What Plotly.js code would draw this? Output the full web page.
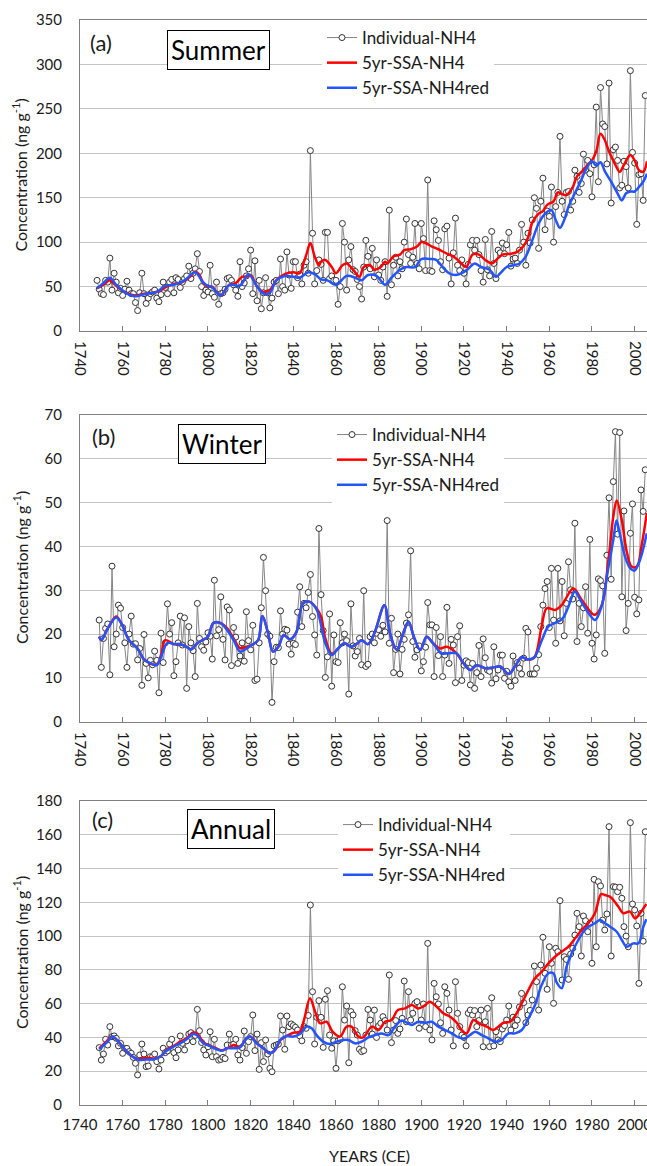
<!DOCTYPE html>
<html>
<head>
<meta charset="utf-8">
<script src="https://cdn.plot.ly/plotly-3.0.1.min.js"></script>
<style>
  html, body { margin: 0; padding: 0; background: #fff; }
  #chart { width: 647px; height: 1166px; }
</style>
</head>
<body>
<div id="chart"></div>
<script>
// ---------- Summer (a): individual yearly NH4, 1748-2005 ----------
const summerStart = 1748;
const summerIndividual = [
  57, 47, 42, 41, 57, 55, 82, 46, 65, 55,
  43, 48, 40, 47, 56, 46, 42, 42, 32, 23,
  43, 65, 42, 31, 37, 42, 44, 46, 37, 33,
  41, 55, 49, 42, 55, 58, 43, 60, 58, 49,
  55, 59, 62, 73, 59, 65, 70, 87, 67, 50,
  40, 46, 44, 74, 42, 38, 55, 30, 42, 43,
  47, 59, 60, 57, 52, 46, 39, 78, 50, 54,
  62, 70, 91, 42, 79, 34, 57, 25, 43, 60,
  43, 26, 37, 55, 57, 42, 81, 50, 46, 89,
  63, 48, 78, 78, 60, 64, 53, 74, 78, 65,
  203, 110, 53, 68, 80, 75, 57, 111, 111, 59,
  62, 57, 57, 30, 50, 121, 100, 46, 80, 95,
  69, 67, 58, 50, 36, 72, 102, 84, 70, 93,
  61, 80, 63, 57, 72, 78, 39, 136, 52, 74,
  83, 62, 78, 70, 100, 126, 86, 76, 83, 121,
  76, 70, 121, 104, 68, 170, 68, 67, 124, 114,
  102, 78, 69, 115, 118, 82, 53, 88, 127, 74,
  68, 80, 65, 53, 75, 97, 102, 91, 102, 86,
  68, 55, 103, 69, 62, 112, 76, 59, 91, 88,
  99, 87, 97, 111, 73, 81, 82, 76, 91, 120,
  100, 74, 110, 99, 125, 150, 138, 93, 146, 172,
  114, 135, 129, 162, 100, 140, 156, 219, 146, 131,
  156, 157, 136, 146, 181, 174, 156, 166, 199, 181,
  192, 177, 151, 187, 252, 168, 274, 233, 230, 188,
  279, 144, 204, 207, 192, 161, 164, 191, 185, 161,
  293, 201, 189, 120, 176, 177, 147, 265
];
const summerSsaYears = [
  1748, 1751, 1754, 1756, 1759, 1762, 1766, 1770, 1774, 1777, 1780, 1784, 1787, 1790, 1792,
  1794, 1796, 1798, 1800, 1802, 1804, 1806, 1808, 1810, 1813, 1816, 1818, 1820, 1823, 1826,
  1829, 1832, 1836, 1840, 1843, 1845, 1846, 1848, 1850, 1852, 1853, 1855, 1858, 1860, 1863,
  1865, 1868, 1871, 1873, 1876, 1878, 1881, 1883, 1884, 1887, 1890, 1892, 1895, 1898, 1900,
  1902, 1905, 1908, 1912, 1915, 1918, 1921, 1924, 1927, 1930, 1933, 1936, 1938, 1942, 1945,
  1948, 1950, 1952, 1955, 1957, 1959, 1962, 1964, 1966, 1968, 1971, 1973, 1976, 1978, 1980,
  1982, 1984, 1986, 1988, 1991, 1993, 1995, 1998, 2000, 2002, 2004, 2005.8
];
const summerSsa = [
  48, 52, 57, 53, 47, 43, 40, 42, 43, 45, 49, 53, 54, 58, 62,
  67, 63, 53, 50, 50, 44, 40, 46, 52, 54, 61, 61, 63, 50, 44,
  46, 57, 64, 66, 65, 78, 85, 99, 84, 74, 78, 80, 72, 65, 74,
  76, 69, 61, 72, 74, 69, 72, 78, 76, 84, 86, 91, 92, 95, 100,
  99, 95, 92, 87, 84, 78, 72, 86, 86, 80, 76, 82, 86, 87, 89,
  96, 105, 122, 132, 135, 142, 146, 156, 154, 153, 162, 174, 181, 187, 192,
  202, 222, 215, 202, 187, 179, 187, 198, 192, 181, 179, 191
];
const summerRedYears = [
  1748, 1751, 1754, 1757, 1762, 1766, 1771, 1776, 1780, 1784, 1789, 1794, 1797, 1799, 1802,
  1806, 1810, 1815, 1819, 1823, 1826, 1829, 1832, 1836, 1840, 1843, 1847, 1850, 1853, 1856,
  1860, 1865, 1869, 1872, 1875, 1879, 1883, 1886, 1890, 1893, 1897, 1900, 1904, 1907, 1910,
  1913, 1916, 1919, 1922, 1925, 1928, 1932, 1935, 1937, 1940, 1943, 1946, 1949, 1952, 1955,
  1958, 1961, 1963, 1965, 1967, 1969, 1972, 1975, 1977, 1980, 1982, 1984, 1986, 1989, 1992,
  1994, 1996, 1998, 2000, 2002, 2004, 2005.8
];
const summerSsaRed = [
  48, 54, 60, 52, 42, 39, 42, 44, 51, 52, 57, 66, 57, 52, 49,
  40, 52, 51, 64, 50, 42, 43, 57, 62, 61, 60, 66, 64, 58, 57,
  52, 62, 60, 57, 63, 62, 52, 60, 69, 72, 72, 81, 81, 80, 72,
  65, 63, 65, 70, 76, 72, 69, 61, 65, 72, 74, 76, 84, 102, 121,
  132, 136, 125, 116, 125, 140, 155, 170, 181, 191, 186, 190, 180, 168, 155,
  147, 155, 157, 157, 162, 168, 177
];

// ---------- Winter (b): individual yearly NH4, 1749-2005 ----------
const winterStart = 1749;
const winterIndividual = [
  23.2, 12.4, 19, 21.3, 22.3, 10.7, 35.5, 17.1, 20, 26.6,
  25.9, 21.5, 18, 12.4, 20, 24.1, 17.7, 17.8, 14.1, 16.7,
  8.3, 19.9, 13.3, 10, 14, 13, 16.1, 14, 6.6, 20.2,
  13.5, 18, 26.9, 20, 22.6, 10.5, 13.7, 18, 24.1, 17.5,
  23.7, 7.6, 21.7, 18, 16.2, 10.3, 27, 19, 17.1, 16.3,
  18.2, 20.3, 19.5, 14.3, 32.3, 19.6, 21, 28.5, 18.8, 14.1,
  26.2, 25.5, 12.8, 21.5, 19.3, 13.3, 15, 18, 13.8, 25.1,
  18.5, 16.4, 22, 9.4, 9.7, 18, 26, 37.5, 29.9, 20,
  19.5, 4.4, 13.7, 17, 16.9, 25.3, 20, 21.1, 20.9, 17.7,
  15.4, 17.9, 17.6, 25, 30.8, 21.7, 27, 26, 29.5, 33.6,
  24, 19.8, 15.2, 44.1, 29, 20.8, 10.1, 14.8, 24.6, 8.1,
  19.8, 13.7, 13.5, 22.6, 18, 20, 18.5, 6.3, 26.9, 17.3,
  15, 16, 19, 13, 29.9, 12.6, 13.1, 19.4, 20, 18,
  20.2, 21, 19.5, 22, 20.5, 45.9, 17.9, 23.6, 11.2, 16.5,
  20, 10.9, 16.5, 18.8, 22.5, 24.4, 39, 18.3, 14.7, 16.4,
  17.3, 11.6, 13.7, 17, 27.2, 22.1, 22.1, 10.3, 21.5, 15.1,
  19.4, 10.3, 15.2, 26.1, 13.3, 18.8, 17.5, 8.9, 19.4, 21.9,
  9.4, 12.9, 13.9, 13.5, 8.4, 13.3, 7.6, 11.2, 17.4, 10.3,
  18.9, 14.6, 11.8, 11.5, 8.8, 17.1, 9.8, 11.8, 15.2, 15.2,
  9.9, 11.5, 9.1, 8.1, 15, 9.4, 13.5, 12.2, 10.9, 14.5,
  21.3, 20.5, 10.9, 10.9, 10.9, 12.2, 15.3, 21.7, 26.6, 30.4,
  32, 21.5, 35, 23.2, 17.9, 35, 23, 32, 19.6, 27,
  36.5, 30.1, 28, 45.3, 18.3, 27, 21.7, 26, 30.8, 20.2,
  41.6, 17.9, 14.3, 19.8, 32.6, 32.2, 31, 15.6, 38, 51.1,
  32.5, 54.8, 66.2, 42.8, 66, 28.5, 48.1, 20.8, 27, 43,
  49.7, 28.4, 24.6, 27.8, 52.9, 48, 57.5
];
const winterSsaYears = [
  1749, 1750, 1753, 1757, 1759.5, 1763, 1767, 1770, 1773, 1776, 1778, 1780, 1784, 1787, 1790,
  1792, 1795, 1798, 1800, 1802.5, 1805.5, 1809, 1812, 1815, 1817, 1820.5, 1823.5, 1825.5, 1828, 1830.5,
  1833, 1835.5, 1838.5, 1841.5, 1844.5, 1847.5, 1851, 1853, 1855, 1858, 1861, 1864, 1867, 1870, 1872,
  1875, 1878, 1882.7, 1885.3, 1888.5, 1891.5, 1894, 1896.5, 1899.5, 1902.5, 1905.5, 1908.8, 1911.9, 1916.5, 1919.5,
  1923, 1926, 1930, 1934, 1937, 1941, 1944, 1947, 1950, 1953, 1956.4, 1958.8, 1962.7, 1965.8, 1967.4,
  1971.3, 1975.2, 1980, 1981.4, 1984.6, 1987.7, 1990, 1991.6, 1994, 1996.3, 1998.6, 2001, 2003.3, 2005.7
];
const winterSsa = [
  19.4, 18.6, 21.3, 24, 22.3, 18.6, 16.7, 14.2, 13.3, 13, 15.2, 18.6, 17.7, 17.7, 17.1,
  16.5, 17.9, 18.8, 19.4, 22.5, 22.6, 21.3, 19, 16.8, 17, 17.5, 18.6, 24.1, 20.5, 16,
  17.1, 19.8, 18.8, 20.5, 27, 27.4, 25.8, 24, 19, 15.5, 16.7, 17.9, 17.1, 17.9, 18.6,
  17.7, 20.2, 26.6, 20.2, 16.4, 20.2, 22.8, 19.4, 16.4, 19.4, 17.9, 16.7, 17.1, 15.6, 13.5,
  11.8, 12.9, 12.2, 12.4, 12.6, 10.9, 12.7, 14.7, 14.2, 14.7, 21.7, 25.9, 25.5, 26.6, 27.8,
  30.4, 27.8, 24.7, 24.4, 26.6, 36.9, 46.8, 50.5, 46, 38.8, 35.4, 35.4, 40.3, 47.6
];
const winterRedYears = [
  1749, 1750, 1753, 1757, 1759.5, 1763, 1767, 1770, 1773, 1776, 1778, 1781, 1784, 1787, 1790,
  1792, 1795, 1798, 1800, 1802.5, 1805.5, 1809, 1812, 1815, 1817, 1820.5, 1823.5, 1825.5, 1828, 1830.5,
  1833, 1835.5, 1838.5, 1841.5, 1844.5, 1847.5, 1851, 1855, 1858, 1861, 1864, 1867, 1870, 1872, 1875,
  1878, 1882.7, 1885.3, 1888.5, 1891.5, 1894, 1896.5, 1899.5, 1902.5, 1905.5, 1909.5, 1912.5, 1916.5, 1919.5, 1923,
  1926, 1930, 1934, 1937, 1941, 1944, 1947, 1950, 1953, 1956.5, 1959.5, 1962.5, 1966, 1969, 1972,
  1974.5, 1978.5, 1981.5, 1984.5, 1987.5, 1990, 1991.5, 1993, 1995.5, 1998, 2000, 2002.5, 2005.7
];
const winterSsaRed = [
  19.4, 18.6, 21.3, 23.8, 22.3, 18.6, 16.7, 14.2, 13.3, 12.9, 14.8, 18, 17.7, 17.7, 17.1,
  16.5, 17.9, 18.8, 19.4, 22.5, 22.6, 20.9, 18.6, 16, 16.4, 17.5, 18.6, 24.1, 20.5, 16,
  17.1, 19.8, 18.8, 20.5, 27, 27.4, 25.5, 17.9, 15.2, 16.7, 17.9, 17.1, 17.9, 18.6, 17.7,
  20.2, 26.6, 20.2, 16.4, 20.2, 22.8, 19.4, 16.4, 19.4, 17.9, 15.6, 15.6, 15.6, 13.5, 11.8,
  12.9, 12.2, 12.4, 12.6, 10.9, 12.7, 14.7, 14.2, 14.7, 18.6, 21.7, 22.5, 23.4, 26.3, 29.7,
  27.8, 24.7, 23.2, 26.3, 34.6, 41.5, 45.9, 43, 37.7, 35, 34.5, 36.9, 43
];

// ---------- Annual (c): individual yearly NH4, 1749-2005 ----------
const annualStart = 1749;
const annualIndividual = [
  34, 26.6, 30.2, 38.9, 35.5, 46.4, 40.5, 40.9, 39.5, 35,
  36.5, 30.6, 33.6, 33.5, 31.6, 30.6, 28.2, 24.7, 17.8, 29.6,
  36.1, 30.2, 22.7, 23.1, 28.6, 28.5, 30.2, 25.7, 21.3, 26.6,
  33.6, 31, 32, 36.1, 38.9, 31, 28, 32.6, 40.9, 36.5,
  32.6, 38, 42, 42.8, 37.5, 41.2, 56.6, 44, 37, 32.6,
  29.6, 34.5, 43.4, 28.6, 38.9, 28.6, 26.6, 27, 28.2, 27.5,
  35.5, 42, 35.5, 36, 38.9, 29.6, 26.6, 34, 43.8, 30.6,
  37.5, 40.5, 53.3, 32.2, 42, 21.1, 36.9, 25.7, 38.5, 30.2,
  21.7, 19.7, 35, 35.5, 36, 52.7, 44.4, 33, 52.7, 46.4,
  48, 47, 46, 44.4, 40.9, 38, 46.4, 45.4, 53, 118.4,
  67.1, 36.1, 51.9, 61.8, 51.9, 34.1, 62.6, 67.7, 41.4, 33.6,
  38, 21.7, 38, 38.9, 70, 50.3, 58.6, 25, 55.3, 53.3,
  44, 41.4, 33, 31.6, 32.2, 41.4, 56.6, 50.3, 42, 56.2,
  40, 46.8, 48.4, 52.3, 50, 44.4, 77, 36.9, 44.4, 50,
  42.4, 45, 51.3, 73.4, 49.3, 67.1, 50.3, 54.3, 60.2, 61.2,
  45.4, 50.3, 59.8, 46.4, 95.7, 44.4, 38.5, 72, 64.1, 59.8,
  48.7, 42.4, 70, 66.1, 56.2, 44.4, 35, 73, 54.3, 46.4,
  41.4, 40, 35, 54.3, 56.2, 53.3, 55.9, 46.4, 50, 56.2,
  34.5, 49.3, 57.2, 34.5, 63.5, 35, 43.4, 38.5, 37.5, 45,
  47, 50.3, 58.6, 44.4, 52, 47, 50.3, 58, 66.1, 60.6,
  48.7, 53.3, 56, 62.2, 82.3, 73, 56.2, 82.9, 99.3, 78,
  68.5, 93.7, 83.9, 60.2, 92.8, 90.8, 121, 74, 87.8, 86.2,
  74.4, 89.4, 92.8, 100.6, 113.5, 105.6, 88.2, 111.9, 109.1, 102.6,
  107.6, 83.9, 133.6, 93.7, 132.2, 129.7, 109.5, 103.6, 113.1, 164.8,
  88.2, 129.3, 129, 126.3, 128.9, 122.4, 105.6, 100, 93.7, 167.2,
  119, 115.5, 106, 72, 113.5, 97, 161.8
];
const annualSsaYears = [
  1749, 1752, 1755, 1758, 1762, 1766, 1769, 1772, 1775, 1778, 1781, 1784, 1787, 1790, 1793,
  1795, 1798, 1801, 1804, 1806.5, 1809, 1812, 1815, 1818, 1820, 1823, 1826, 1829, 1831.5, 1834,
  1837, 1840, 1843, 1845, 1847.8, 1850.2, 1852.5, 1855.6, 1858.4, 1861.9, 1865, 1867.3, 1870.5, 1872.8, 1876.8,
  1879.9, 1883, 1886, 1889, 1892.4, 1895.5, 1898.6, 1901.8, 1904, 1907.2, 1910.3, 1913.5, 1916.6, 1918.9, 1921.3,
  1924.4, 1927.5, 1930.7, 1933.8, 1936.1, 1938.5, 1941.6, 1944.7, 1947.1, 1950.2, 1953.3, 1956.4, 1959.6, 1962.7, 1965.8,
  1968.9, 1972.1, 1975.2, 1978.3, 1981.4, 1984.3, 1986.1, 1988.5, 1992.4, 1994.7, 1997.8, 2000.2, 2002.5, 2005.5
];
const annualSsa = [
  33.5, 37, 40.5, 37.5, 31.6, 27.6, 27.6, 28, 27.5, 29, 33, 35, 37.5, 39.5, 43,
  42, 37, 35, 33.5, 32.2, 33.5, 35.5, 34.5, 39.5, 40.5, 36.5, 33.6, 30.6, 32.6, 38.5,
  41, 42.8, 43.4, 50.3, 63.2, 55.3, 48.4, 49.3, 43.4, 40.5, 46.4, 46.4, 40.5, 40, 46.4,
  44.4, 49.3, 50.3, 56.2, 57.2, 59.2, 57.2, 59.2, 61.2, 58.2, 54.3, 52.3, 48.7, 44.4, 42.4,
  50.3, 48, 46.4, 44.4, 46.4, 48.7, 49.3, 54.3, 60.2, 68.1, 75, 78.9, 83.9, 87.8, 90.8,
  93.7, 98.7, 103.6, 107.6, 113.5, 124.9, 124.3, 123.3, 117.4, 113.5, 114.5, 110.5, 113.5, 119
];
const annualRedYears = [
  1749, 1752.5, 1755.3, 1758, 1762, 1766, 1768, 1771, 1774.4, 1777.5, 1780.6, 1783.8, 1787, 1790, 1793,
  1794.7, 1797.8, 1801, 1804, 1806.4, 1808.8, 1812, 1815, 1818, 1819.7, 1822.8, 1826, 1829, 1831.4, 1833.8,
  1836.9, 1840, 1843.1, 1846.3, 1848.6, 1850.9, 1854, 1857.2, 1860.3, 1863.4, 1865.8, 1868.9, 1872, 1875.2, 1878.3,
  1881.4, 1884.6, 1887.7, 1890.8, 1895.5, 1898.6, 1901.8, 1904.9, 1908, 1911.1, 1914.3, 1917.4, 1920.5, 1922.8, 1925.2,
  1928.3, 1931.4, 1934.6, 1937.7, 1940.8, 1943.9, 1947.1, 1950.2, 1953.3, 1956.4, 1959.6, 1961.9, 1963.5, 1965.8, 1968.1,
  1970.5, 1973.6, 1976, 1978.3, 1981.4, 1983.8, 1986.1, 1988.5, 1991.6, 1994, 1996.3, 1999.4, 2001.8, 2004.1, 2005.5
];
const annualSsaRed = [
  33, 36.9, 40.5, 37.5, 31.6, 27.6, 26.6, 27, 27, 28.6, 32.2, 34.5, 36.5, 38.9, 42,
  41.4, 36.5, 34.9, 33, 32.2, 33.6, 33.6, 34.1, 39.5, 40.5, 36.5, 33.6, 30.6, 32.6, 38.5,
  40.9, 40.5, 42, 46.4, 45.4, 41.4, 37.5, 36.1, 37.5, 38.5, 38.5, 36.5, 37.5, 40, 41.4,
  42.4, 41.4, 46.4, 50, 47.4, 49.3, 48.7, 49.3, 46.4, 44.4, 42.4, 40, 39.5, 41.4, 43.4,
  41.4, 39.5, 37.5, 38.5, 42.4, 42.4, 44.4, 51.3, 59.2, 71, 78, 78, 72.4, 69.1, 81.9,
  89.8, 97.7, 102.6, 105.6, 107.6, 109.5, 107.6, 105.6, 102.6, 97.7, 93.7, 95.7, 95.7, 105.6, 110
];

function yearRange(start, n) {
  return Array.from({ length: n }, (_, i) => start + i);
}

const FONT = 'Lato, "Open Sans", "DejaVu Sans", sans-serif';
const TEXT = '#1a1a1a';
const RED = '#ff0000';
const BLUE = '#2255ff';

const panels = [
  { years: yearRange(summerStart, summerIndividual.length), ind: summerIndividual,
    sx: summerSsaYears, s: summerSsa, rx: summerRedYears, r: summerSsaRed, legend: 'legend' },
  { years: yearRange(winterStart, winterIndividual.length), ind: winterIndividual,
    sx: winterSsaYears, s: winterSsa, rx: winterRedYears, r: winterSsaRed, legend: 'legend2' },
  { years: yearRange(annualStart, annualIndividual.length), ind: annualIndividual,
    sx: annualSsaYears, s: annualSsa, rx: annualRedYears, r: annualSsaRed, legend: 'legend3' }
];

const traces = [];
panels.forEach((p, i) => {
  const xa = i === 0 ? 'x' : 'x' + (i + 1);
  const ya = i === 0 ? 'y' : 'y' + (i + 1);
  traces.push({
    x: p.years, y: p.ind, xaxis: xa, yaxis: ya, legend: p.legend,
    name: 'Individual-NH4', type: 'scatter', mode: 'lines+markers',
    line: { color: '#858585', width: 1 },
    marker: { symbol: 'circle', size: 6, color: '#ffffff', line: { color: '#333333', width: 1 } }
  });
  traces.push({
    x: p.sx, y: p.s, xaxis: xa, yaxis: ya, legend: p.legend,
    name: '5yr-SSA-NH4', type: 'scatter', mode: 'lines',
    line: { color: RED, width: 2.5, shape: 'spline', smoothing: 1 }
  });
  traces.push({
    x: p.rx, y: p.r, xaxis: xa, yaxis: ya, legend: p.legend,
    name: '5yr-SSA-NH4red', type: 'scatter', mode: 'lines',
    line: { color: BLUE, width: 2.5, shape: 'spline', smoothing: 1 }
  });
});

const H = 1166, W = 647, L = 80;
const px = v => (v - L) / (W - L);
const py = v => 1 - v / H;

function xAxis(anchor, angle) {
  return {
    anchor: anchor, range: [1740, 2005.8], tick0: 1740, dtick: 20,
    showgrid: false, zeroline: false,
    showline: true, mirror: true, linecolor: '#7f7f7f', linewidth: 1,
    ticks: 'inside', ticklen: 5, tickcolor: '#7f7f7f',
    tickangle: angle, ticklabelstandoff: 6, ticklabeloverflow: 'allow',
    tickfont: { family: FONT, size: 15, color: TEXT }
  };
}
function yAxis(anchor, domain, max, step) {
  return {
    anchor: anchor, domain: domain, range: [0, max], dtick: step, tick0: 0,
    showgrid: true, gridcolor: '#c4c4c4', gridwidth: 1, zeroline: false,
    showline: true, linecolor: '#7f7f7f', linewidth: 1,
    ticks: '', ticklabelstandoff: 14,
    tickfont: { family: FONT, size: 15, color: TEXT }
  };
}

function legendAt(xPix, yPix) {
  return {
    x: px(xPix), y: py(yPix), xanchor: 'left', yanchor: 'top',
    bgcolor: '#ffffff', borderwidth: 0, tracegroupgap: 0,
    font: { family: FONT, size: 17, color: TEXT }
  };
}

const yTitle = 'Concentration (ng g<sup>-1</sup>)';
function sideTitle(yc) {
  return { text: yTitle, xref: 'paper', yref: 'paper', x: px(20), y: py(yc),
    xanchor: 'center', yanchor: 'middle', textangle: -90, showarrow: false,
    font: { family: FONT, size: 16, color: TEXT } };
}
function tag(text, xc, yc) {
  return { text: text, xref: 'paper', yref: 'paper', x: px(xc), y: py(yc),
    xanchor: 'center', yanchor: 'middle', showarrow: false,
    font: { family: FONT, size: 22, color: TEXT } };
}
function boxed(text, xc, yc) {
  return { text: text, xref: 'paper', yref: 'paper', x: px(xc), y: py(yc),
    xanchor: 'center', yanchor: 'middle', showarrow: false,
    bgcolor: '#ffffff', bordercolor: '#000000', borderwidth: 1, borderpad: 3,
    font: { family: FONT, size: 26, color: '#000000' } };
}

const layout = {
  width: W, height: H,
  margin: { l: L, r: 0, t: 0, b: 0 },
  paper_bgcolor: '#ffffff', plot_bgcolor: '#ffffff',
  showlegend: true,
  xaxis: xAxis('y', 90),
  yaxis: yAxis('x', [py(331), py(20)], 350, 50),
  xaxis2: xAxis('y2', 90),
  yaxis2: yAxis('x2', [py(721.7), py(415)], 70, 10),
  xaxis3: xAxis('y3', 0),
  yaxis3: yAxis('x3', [py(1105), py(801)], 180, 20),
  legend: legendAt(322, 20),
  legend2: legendAt(332, 417),
  legend3: legendAt(338, 807),
  annotations: [
    sideTitle(175.5), sideTitle(568), sideTitle(953),
    tag('(a)', 101, 42.5), boxed('Summer', 218, 50),
    tag('(b)', 103, 437), boxed('Winter', 222, 444),
    tag('(c)', 102.5, 819), boxed('Annual', 231, 829),
    { text: 'YEARS (CE)', xref: 'paper', yref: 'paper', x: px(369), y: py(1155),
      xanchor: 'center', yanchor: 'middle', showarrow: false,
      font: { family: FONT, size: 16, color: TEXT } }
  ]
};

Plotly.newPlot('chart', traces, layout, { staticPlot: true, displayModeBar: false });
</script>
</body>
</html>
